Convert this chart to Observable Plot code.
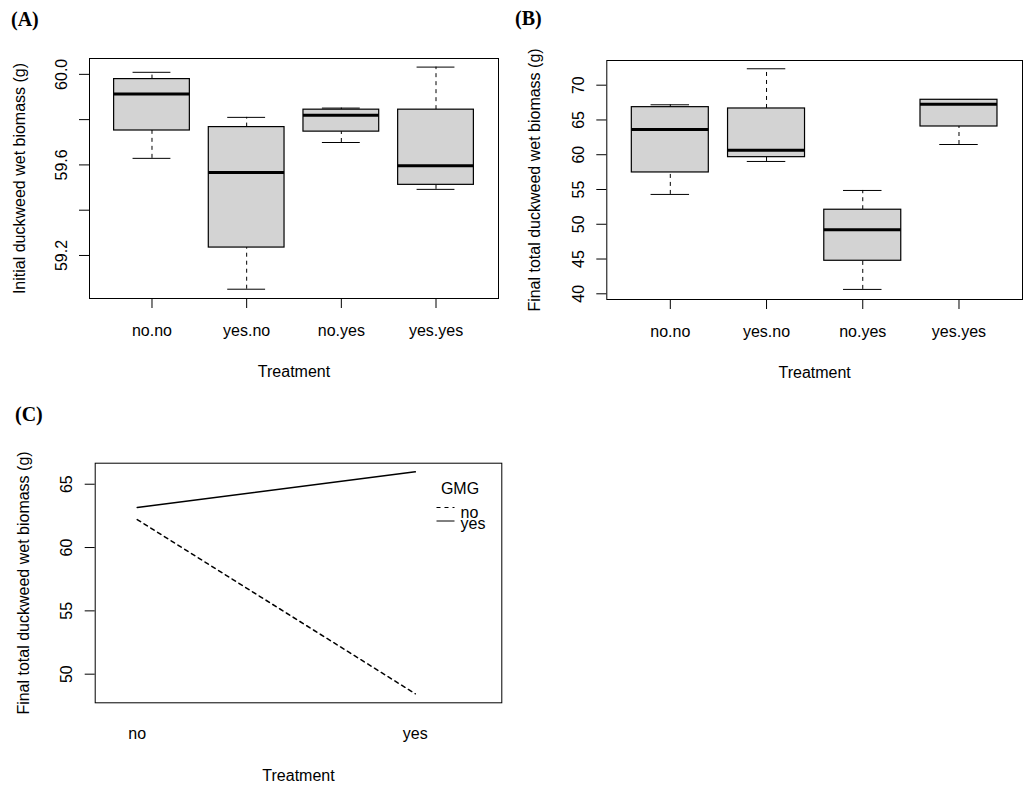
<!DOCTYPE html>
<html><head><meta charset="utf-8">
<script src="https://cdn.jsdelivr.net/npm/d3@7"></script>
<script src="https://cdn.jsdelivr.net/npm/@observablehq/plot@0.6"></script>
<style>
body{margin:0;background:#fff;}
#root{position:relative;width:1033px;height:796px;overflow:hidden;font-family:"Liberation Sans",Arial,sans-serif;}
.panel{position:absolute;}
#overlay{position:absolute;left:0;top:0;pointer-events:none;}
</style></head><body><div id="root"></div>
<script>
// ---- data ----
const treatments = ["no.no", "yes.no", "no.yes", "yes.yes"];

// Panel A: initial duckweed wet biomass (g), box-plot statistics
const initLow = [59.629, 59.051, 59.699, 59.492];
const initQ1 = [59.752, 59.235, 59.747, 59.512];
const initMedian = [59.913, 59.567, 59.819, 59.596];
const initQ3 = [59.979, 59.767, 59.844, 59.844];
const initHigh = [60.009, 59.810, 59.851, 60.032];
const initTicks = [59.2, 59.4, 59.6, 59.8, 60.0];
const initTickLabels = ["59.2", "59.6", "60.0"];

// Panel B: final total duckweed wet biomass (g)
const finalLow = [54.29, 59.03, 40.63, 61.47];
const finalQ1 = [57.45, 59.65, 44.75, 64.06];
const finalMedian = [63.63, 60.66, 49.21, 67.27];
const finalQ3 = [66.84, 66.65, 52.09, 67.90];
const finalHigh = [67.18, 72.36, 54.86, 67.90];
const finalTicks = [40, 45, 50, 55, 60, 65, 70];

// Panel C: interaction plot (means), x = Treatment, trace = GMG
const treatmentLevels = ["no", "yes"];
const gmgLevels = ["no", "yes"];
const meanGmgNo = [62.21, 48.45];
const meanGmgYes = [63.16, 65.98];
const interTicks = [50, 55, 60, 65];

// ---- helpers ----
const root = document.getElementById("root");
const FONT = "Liberation Sans, Arial, sans-serif";

function place(el, left, top) {
  const d = document.createElement("div");
  d.className = "panel";
  d.style.left = left + "px";
  d.style.top = top + "px";
  d.appendChild(el);
  root.appendChild(d);
}

function boxPanel({low, q1, med, q3, high, yDomain, yTicks, yFormat, ylab, left, top, width, height, margins, labelOffsetY}) {
  const rows = treatments.map((t, k) => ({t, i: k + 1, lo: low[k], q1: q1[k], med: med[k], q3: q3[k], hi: high[k]}));
  const chart = Plot.plot({
    width, height,
    marginLeft: margins[0], marginRight: margins[1], marginTop: margins[2], marginBottom: margins[3],
    style: {fontSize: "16px", fontFamily: FONT, color: "#000", background: "#fff", overflow: "visible"},
    x: {type: "linear", domain: [0.34, 4.66]},
    y: {domain: yDomain},
    marks: [
      Plot.ruleX(rows, {x: "i", y1: "q3", y2: "hi", stroke: "#000", strokeDasharray: "4,4"}),
      Plot.ruleX(rows, {x: "i", y1: "lo", y2: "q1", stroke: "#000", strokeDasharray: "4,4"}),
      Plot.ruleY(rows, {y: "hi", x1: d => d.i - 0.2, x2: d => d.i + 0.2, stroke: "#000"}),
      Plot.ruleY(rows, {y: "lo", x1: d => d.i - 0.2, x2: d => d.i + 0.2, stroke: "#000"}),
      Plot.rect(rows, {x1: d => d.i - 0.4, x2: d => d.i + 0.4, y1: "q1", y2: "q3", fill: "#d3d3d3", stroke: "#000", strokeWidth: 1.2}),
      Plot.ruleY(rows, {y: "med", x1: d => d.i - 0.4, x2: d => d.i + 0.4, stroke: "#000", strokeWidth: 3}),
      Plot.frame({stroke: "#000"}),
      Plot.axisY({ticks: yTicks, tickFormat: yFormat, tickRotate: -90, tickSize: 10, tickPadding: 13,
        label: ylab, labelAnchor: "center", labelOffset: labelOffsetY, labelArrow: "none"}),
      Plot.axisX({ticks: [1, 2, 3, 4], tickFormat: i => treatments[i - 1], tickSize: 10, tickPadding: 16,
        label: "Treatment", labelAnchor: "center", labelOffset: 78, labelArrow: "none"})
    ]
  });
  place(chart, left, top);
}

// Panel A
boxPanel({
  low: initLow, q1: initQ1, med: initMedian, q3: initQ3, high: initHigh,
  yDomain: [59.01, 60.07], yTicks: initTicks,
  yFormat: v => { const s = v.toFixed(1); return initTickLabels.includes(s) ? s : ""; },
  ylab: "Initial duckweed wet biomass (g)",
  left: 0, top: 0, width: 510, height: 390, margins: [89, 12, 58, 92], labelOffsetY: 76
});

// Panel B
boxPanel({
  low: finalLow, q1: finalQ1, med: finalMedian, q3: finalQ3, high: finalHigh,
  yDomain: [39.18, 73.55], yTicks: finalTicks, yFormat: v => String(v),
  ylab: "Final total duckweed wet biomass (g)",
  left: 510, top: 0, width: 523, height: 390, margins: [96.3, 11, 60, 91], labelOffsetY: 78
});

// Panel C
const interRows = [];
treatmentLevels.forEach((t, k) => {
  interRows.push({t, i: k + 1, gmg: gmgLevels[0], mean: meanGmgNo[k]});
  interRows.push({t, i: k + 1, gmg: gmgLevels[1], mean: meanGmgYes[k]});
});
const chartC = Plot.plot({
  width: 510, height: 396,
  marginLeft: 94.7, marginRight: 8.7, marginTop: 62.7, marginBottom: 93.7,
  style: {fontSize: "16px", fontFamily: FONT, color: "#000", background: "#fff", overflow: "visible"},
  x: {type: "linear", domain: [0.849, 2.311]},
  y: {domain: [47.74, 66.66]},
  marks: [
    Plot.line(interRows.filter(d => d.gmg === "no"), {x: "i", y: "mean", stroke: "#000", strokeDasharray: "4,4"}),
    Plot.line(interRows.filter(d => d.gmg === "yes"), {x: "i", y: "mean", stroke: "#000"}),
    Plot.frame({stroke: "#000"}),
    Plot.axisY({ticks: interTicks, tickRotate: -90, tickSize: 10, tickPadding: 13,
      label: "Final total duckweed wet biomass (g)", labelAnchor: "center", labelOffset: 78, labelArrow: "none"}),
    Plot.axisX({ticks: [1, 2], tickFormat: i => treatmentLevels[i - 1], tickSize: 0, tickPadding: 25,
      label: "Treatment", labelAnchor: "center", labelOffset: 78, labelArrow: "none"})
  ]
});
place(chartC, 0, 400);

// ---- overlay: panel tags and legend of panel C ----
const ns = "http://www.w3.org/2000/svg";
const ov = document.createElementNS(ns, "svg");
ov.setAttribute("id", "overlay");
ov.setAttribute("width", 1033);
ov.setAttribute("height", 796);
function txt(x, y, s, opts = {}) {
  const t = document.createElementNS(ns, "text");
  t.setAttribute("x", x); t.setAttribute("y", y);
  t.setAttribute("font-family", opts.family || FONT);
  t.setAttribute("font-size", opts.size || 16);
  if (opts.weight) t.setAttribute("font-weight", opts.weight);
  if (opts.anchor) t.setAttribute("text-anchor", opts.anchor);
  t.textContent = s;
  ov.appendChild(t);
}
function seg(x1, y1, x2, y2, dash) {
  const l = document.createElementNS(ns, "line");
  l.setAttribute("x1", x1); l.setAttribute("y1", y1);
  l.setAttribute("x2", x2); l.setAttribute("y2", y2);
  l.setAttribute("stroke", "#000");
  if (dash) l.setAttribute("stroke-dasharray", dash);
  ov.appendChild(l);
}
const serif = {family: "Liberation Serif, Times New Roman, serif", size: 20, weight: "bold"};
txt(11, 26, "(A)", serif);
txt(515, 25, "(B)", serif);
txt(15, 421, "(C)", serif);
// legend
txt(460, 493.5, "GMG", {anchor: "middle"});
seg(436.5, 507.5, 454.5, 507.5, "4,4");
seg(436.5, 521, 454.5, 521);
txt(460.5, 517.5, gmgLevels[0]);
txt(460.5, 529, gmgLevels[1]);
root.appendChild(ov);
</script></body></html>
